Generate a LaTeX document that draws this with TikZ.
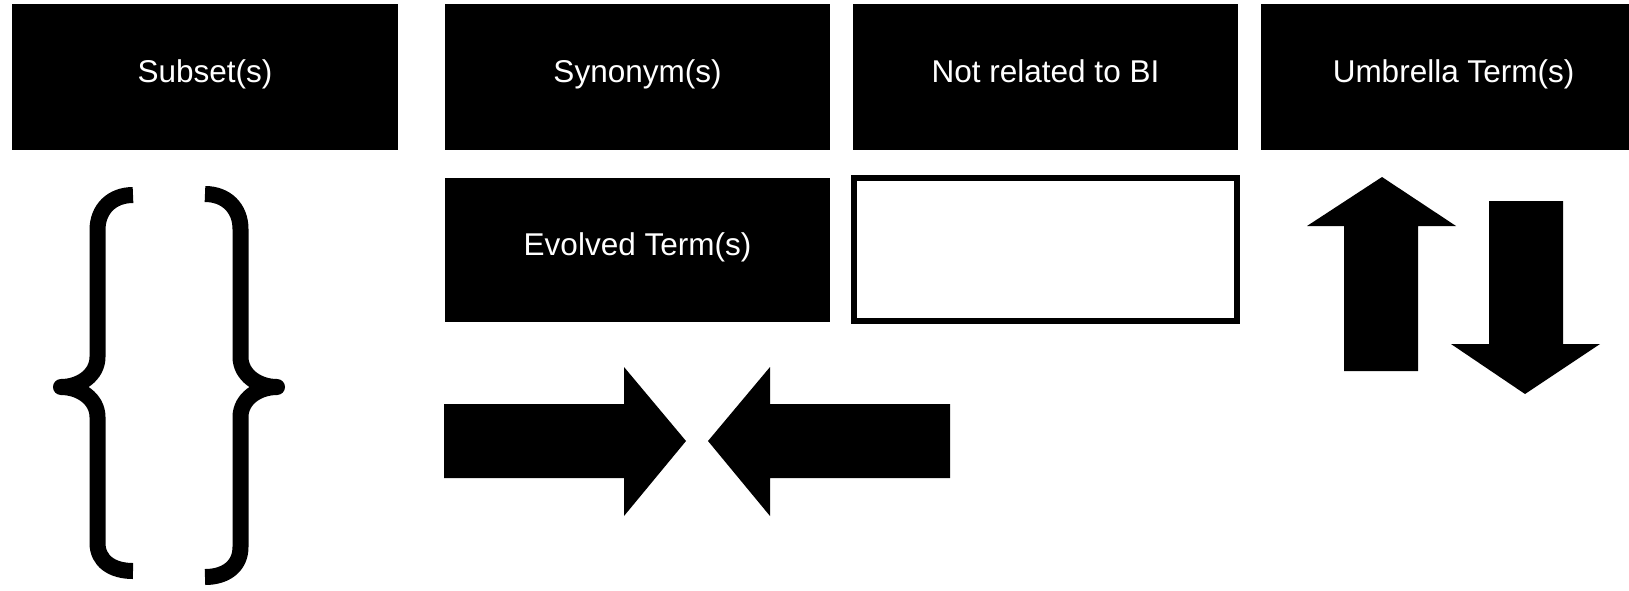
\documentclass[tikz,border=0pt]{standalone}
\usepackage{fontspec}
\setmainfont{Liberation Sans}
\begin{document}
\begin{tikzpicture}[x=1pt,y=-1pt,
  blackbox/.style={fill=black,draw=none,text=white,minimum width=385pt,minimum height=146pt,inner sep=0pt,text height=22pt,text depth=12pt,font=\fontsize{31.5}{37}\selectfont},
  brace/.style={line width=16pt,line join=round},
  bigarrow/.style={fill=black,draw=none}]
\useasboundingbox (0,0) rectangle (1629,590);
\node[blackbox,minimum width=386pt] (subset) at (205,77) {Subset(s)};
\node[blackbox] (syn) at (637.5,77) {Synonym(s)};
\node[blackbox] (notrel) at (1045.5,77) {Not related to BI};
\node[blackbox] (umb) at (1453.5,77) {Umbrella Term(s)};
\node[blackbox,minimum height=144pt] (evo) at (637.5,250) {Evolved Term(s)};
\node[draw=black,line width=6pt,minimum width=383pt,minimum height=143pt,inner sep=0pt] (empty) at (1045.5,249.5) {};
% braces
\draw[brace] (133,195) .. controls (112,195) and (97.5,209) .. (97.5,230) -- (97.5,357)
  .. controls (97.5,375) and (80,387) .. (61,387)
  .. controls (80,387) and (97.5,399) .. (97.5,417) -- (97.5,543)
  .. controls (97.5,561) and (112,571) .. (133,571);
\draw[brace] (205,194) .. controls (226,194) and (240.5,208) .. (240.5,229) -- (240.5,357)
  .. controls (240.5,375) and (258,387) .. (277,387)
  .. controls (258,387) and (240.5,399) .. (240.5,417) -- (240.5,547)
  .. controls (240.5,566) and (226,577) .. (205,577);
% horizontal arrows
\fill[bigarrow] (444,404) -- (624,404) -- (624,367) -- (686,441) -- (624,516) -- (624,478) -- (444,478) -- cycle;
\fill[bigarrow] (950,404) -- (770,404) -- (770,367) -- (708,441) -- (770,516) -- (770,478) -- (950,478) -- cycle;
% vertical arrows
\fill[bigarrow] (1344,371) -- (1344,226) -- (1307,226) -- (1382,177) -- (1456,226) -- (1418,226) -- (1418,371) -- cycle;
\fill[bigarrow] (1489,201) -- (1563,201) -- (1563,344) -- (1600,344) -- (1525,394) -- (1451,344) -- (1489,344) -- cycle;
\end{tikzpicture}
\end{document}
